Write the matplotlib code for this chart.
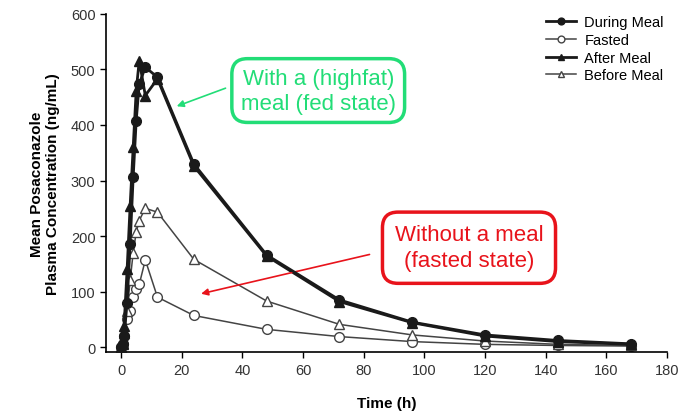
import numpy as np
import matplotlib.pyplot as plt

plt.rcParams['font.family'] = ['Liberation Sans', 'DejaVu Sans']

#   Sampling times (h) and mean plasma concentrations (ng/mL)
time_h = [0, 0.5, 1, 2, 3, 4, 5, 6, 8, 12, 24, 48, 72, 96, 120, 144, 168]
during_meal = [0, 5, 20, 80, 186, 306, 408, 474, 504, 486, 330, 166, 85, 45, 22, 12, 6]
fasted = [0, 5, 20, 50, 65, 90, 105, 113, 157, 90, 57, 32, 19, 10, 5, 3, 2]
after_meal = [0, 5, 38, 140, 255, 360, 462, 516, 453, 483, 326, 164, 82, 44, 20, 10, 5]
before_meal = [0, 8, 25, 65, 120, 170, 207, 228, 250, 243, 158, 83, 41, 22, 11, 5, 3]

x_ticks = [0, 20, 40, 60, 80, 100, 120, 140, 160, 180]
y_ticks = [0, 100, 200, 300, 400, 500, 600]

fig = plt.figure(figsize=(6.92, 4.14), dpi=100)
ax = fig.add_axes([0.153, 0.147, 0.811, 0.817])

dark = '#1a1a1a'
grey = '#444444'
ax.plot(time_h, fasted, color=grey, lw=1.1, marker='o', ms=7,
        mfc='white', mec=grey, mew=1.0, label='Fasted', zorder=2)
ax.plot(time_h, before_meal, color=grey, lw=1.1, marker='^', ms=7,
        mfc='white', mec=grey, mew=1.0, label='Before Meal', zorder=2)
ax.plot(time_h, after_meal, color=dark, lw=2.0, marker='^', ms=7,
        mfc=dark, mec=dark, label='After Meal', zorder=3)
ax.plot(time_h, during_meal, color=dark, lw=2.0, marker='o', ms=7,
        mfc=dark, mec=dark, label='During Meal', zorder=4)

ax.set_xlim(-5, 180)
ax.set_ylim(-9, 600)
ax.set_xticks(x_ticks)
ax.set_yticks(y_ticks)
ax.spines['top'].set_visible(False)
ax.spines['right'].set_visible(False)
ax.spines['left'].set_linewidth(1.2)
ax.spines['bottom'].set_linewidth(1.2)
ax.tick_params(labelsize=10.5, labelcolor='#333333', length=4, width=1)

ax.set_xlabel('Time (h)', fontsize=11, fontweight='bold', labelpad=14)
ax.set_ylabel('Mean Posaconazole\nPlasma Concentration (ng/mL)',
              fontsize=11, fontweight='bold', labelpad=8)

handles, labels = ax.get_legend_handles_labels()
order = [labels.index(k) for k in ['During Meal', 'Fasted', 'After Meal', 'Before Meal']]
leg = ax.legend([handles[i] for i in order], [labels[i] for i in order],
                loc='upper right', bbox_to_anchor=(1.015, 1.03), frameon=False,
                fontsize=10.5, handlelength=2.1, markerscale=0.7,
                labelspacing=0.25, handletextpad=0.55, borderpad=0.3)

#   Callout boxes with arrows
green = '#22dd77'
red = '#e8131b'
ax.annotate('', xy=(17.5, 432), xytext=(35.3, 468),
            arrowprops=dict(arrowstyle='-|>', color=green, lw=1.2, mutation_scale=10))
ax.text(65, 462, 'With a (highfat)\nmeal (fed state)', color=green, fontsize=16,
        ha='center', va='center', linespacing=1.25,
        bbox=dict(boxstyle='round,pad=0.4,rounding_size=0.7', fc='white',
                  ec=green, lw=2.5))
ax.annotate('', xy=(25.5, 95), xytext=(82.8, 168),
            arrowprops=dict(arrowstyle='-|>', color=red, lw=1.2, mutation_scale=10))
ax.text(114.7, 179, 'Without a meal\n(fasted state)', color=red, fontsize=16,
        ha='center', va='center', linespacing=1.3,
        bbox=dict(boxstyle='round,pad=0.55,rounding_size=0.7', fc='white',
                  ec=red, lw=2.5))

fig.savefig('out.png', dpi=100)
